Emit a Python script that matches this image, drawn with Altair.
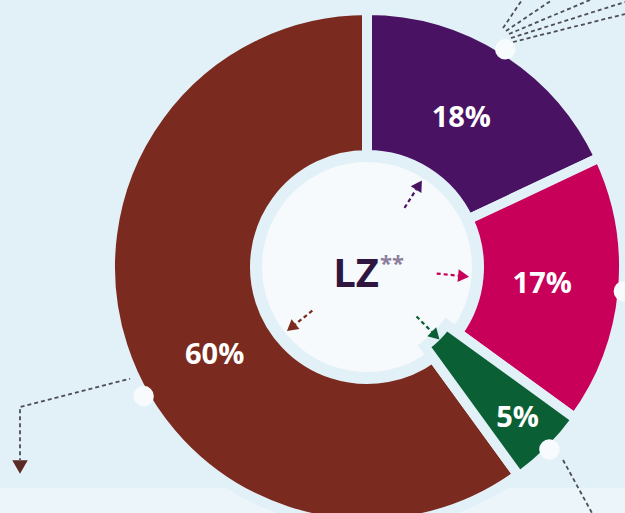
import altair as alt
import pandas as pd

# ---- data -------------------------------------------------------------
categories = ["Purple", "Magenta", "Green", "Brown"]
shares = [18, 17, 5, 60]
labels = ["18%", "17%", "5%", "60%"]
colors = ["#4a1263", "#c8005a", "#0a5f34", "#7a2a1e"]
arrow_colors = ["#2e1b5e", "#c8005a", "#0b6a3d", "#7a2a1e"]

center_text = "LZ"
center_mark = "**"

# decorative leader lines (annotation paths)
leader_id = ["b", "b", "b", "g", "g",
             "f1", "f1", "f2", "f2", "f3", "f3", "f4", "f4", "f5", "f5"]
leader_x = [133, 20, 20, 563, 592,
            503, 522, 506, 552, 509, 590, 511, 625, 513, 625]
leader_y = [378, 407, 460, 460, 513,
            28, 0, 31, 0, 34, 0, 38, 2, 42, 14]

W, H = 625, 513
CX, CY = 367, 267
BG = "#e2f0f7"

df = pd.DataFrame({"cat": categories, "share": shares, "label": labels,
                   "idx": list(range(len(categories)))})
lead = pd.DataFrame({"id": leader_id, "x": leader_x, "y": leader_y,
                     "o": list(range(len(leader_x)))})

color = alt.Color("cat:N", scale=alt.Scale(domain=categories, range=colors), legend=None)
acolor = alt.Color("cat:N", scale=alt.Scale(domain=categories, range=arrow_colors), legend=None)

base = (
    alt.Chart(df)
    .transform_window(cum="sum(share)", sort=[alt.SortField("idx")], frame=[None, 0])
    .transform_joinaggregate(total="sum(share)")
    .transform_calculate(
        t0="(datum.cum - datum.share) / datum.total * 2 * PI",
        t1="datum.cum / datum.total * 2 * PI",
    )
    .transform_calculate(mid="(datum.t0 + datum.t1) / 2")
    .transform_calculate(anc="datum.cat == 'Brown' ? datum.mid - 0.21 : datum.mid")
    .transform_calculate(
        aanc="datum.cat == 'Brown' ? datum.anc - 0.15 : datum.anc",
    )
    .transform_calculate(
        lx=f"{CX} + (datum.cat == 'Green' ? 213 : 176) * sin(datum.anc)",
        ly=f"{CY} - (datum.cat == 'Green' ? 213 : 176) * cos(datum.anc)",
        dx_=f"{CX} + 258 * sin(datum.anc)",
        dy_=f"{CY} - 258 * cos(datum.anc)",
        ax0=f"{CX} + 70 * sin(datum.aanc)",
        ay0=f"{CY} - 70 * cos(datum.aanc)",
        ax1=f"{CX} + 92 * sin(datum.aanc)",
        ay1=f"{CY} - 92 * cos(datum.aanc)",
        hx=f"{CX} + 97 * sin(datum.aanc)",
        hy=f"{CY} - 97 * cos(datum.aanc)",
        hang="datum.aanc * 180 / PI",
    )
)

# background band at the bottom
bg_band = alt.Chart(pd.DataFrame({"a": [0]})).mark_rect(color="#ecf5fa").encode(
    x=alt.value(0), x2=alt.value(W), y=alt.value(488), y2=alt.value(H)
)

# white centre disc
disc = alt.Chart(pd.DataFrame({"a": [0]})).mark_arc(
    radius=105, theta=0, theta2=6.2832, color="#f6fafd"
).encode(x=alt.value(CX), y=alt.value(CY))

arcs_main = base.transform_filter("datum.cat != 'Green'").mark_arc(
    innerRadius=112, outerRadius=257, stroke=BG, strokeWidth=10
).encode(
    theta=alt.Theta("t0:Q", scale=None), theta2="t1:Q", color=color,
    x=alt.value(CX), y=alt.value(CY),
)
arcs_green = base.transform_filter("datum.cat == 'Green'").mark_arc(
    innerRadius=98, outerRadius=259, stroke=BG, strokeWidth=10
).encode(
    theta=alt.Theta("t0:Q", scale=None), theta2="t1:Q", color=color,
    x=alt.value(CX), y=alt.value(CY),
)

dots = base.mark_point(filled=True, shape="circle", size=420, color="#f7fbfd", opacity=1).encode(
    x=alt.X("dx_:Q", scale=None), y=alt.Y("dy_:Q", scale=None)
)

arrow_lines = base.mark_rule(strokeDash=[4, 3], strokeWidth=2.2).encode(
    x=alt.X("ax0:Q", scale=None), y=alt.Y("ay0:Q", scale=None),
    x2="ax1:Q", y2="ay1:Q", color=acolor,
)
arrow_heads = base.mark_point(filled=True, shape="triangle-up", size=160, opacity=1).encode(
    x=alt.X("hx:Q", scale=None), y=alt.Y("hy:Q", scale=None),
    angle=alt.Angle("hang:Q", scale=None), color=acolor,
)

pct = base.mark_text(font="Open Sans", fontWeight="bold", fontSize=29, color="white",
                     align="center", baseline="middle").encode(
    x=alt.X("lx:Q", scale=None), y=alt.Y("ly:Q", scale=None), text="label:N"
)

leaders = alt.Chart(lead).mark_line(strokeDash=[4, 3], strokeWidth=1.8, color="#4d4d55").encode(
    x=alt.X("x:Q", scale=None), y=alt.Y("y:Q", scale=None), detail="id:N", order="o:Q"
)
lead_head = alt.Chart(pd.DataFrame({"a": [0]})).mark_point(
    filled=True, shape="triangle-down", size=240, color="#5a2a24", opacity=1
).encode(x=alt.value(20), y=alt.value(467))

lz = alt.Chart(pd.DataFrame({"t": [center_text]})).mark_text(
    font="Open Sans", fontWeight="bold", fontSize=40, color="#2f1641",
    align="center", baseline="alphabetic"
).encode(x=alt.value(356), y=alt.value(287), text="t:N")
stars = alt.Chart(pd.DataFrame({"t": [center_mark]})).mark_text(
    font="Open Sans", fontWeight="bold", fontSize=22, color="#8d7f9c",
    align="center", baseline="alphabetic"
).encode(x=alt.value(392), y=alt.value(271), text="t:N")

chart = alt.layer(
    bg_band, leaders, lead_head, disc, arcs_main, arcs_green, dots,
    arrow_lines, arrow_heads, pct, lz, stars
).properties(
    width=W, height=H, background=BG, padding=0,
    autosize=alt.AutoSizeParams(type="none"),
).configure_view(stroke=None)

chart.save("out.html", embed_options={"renderer": "svg", "actions": False})
